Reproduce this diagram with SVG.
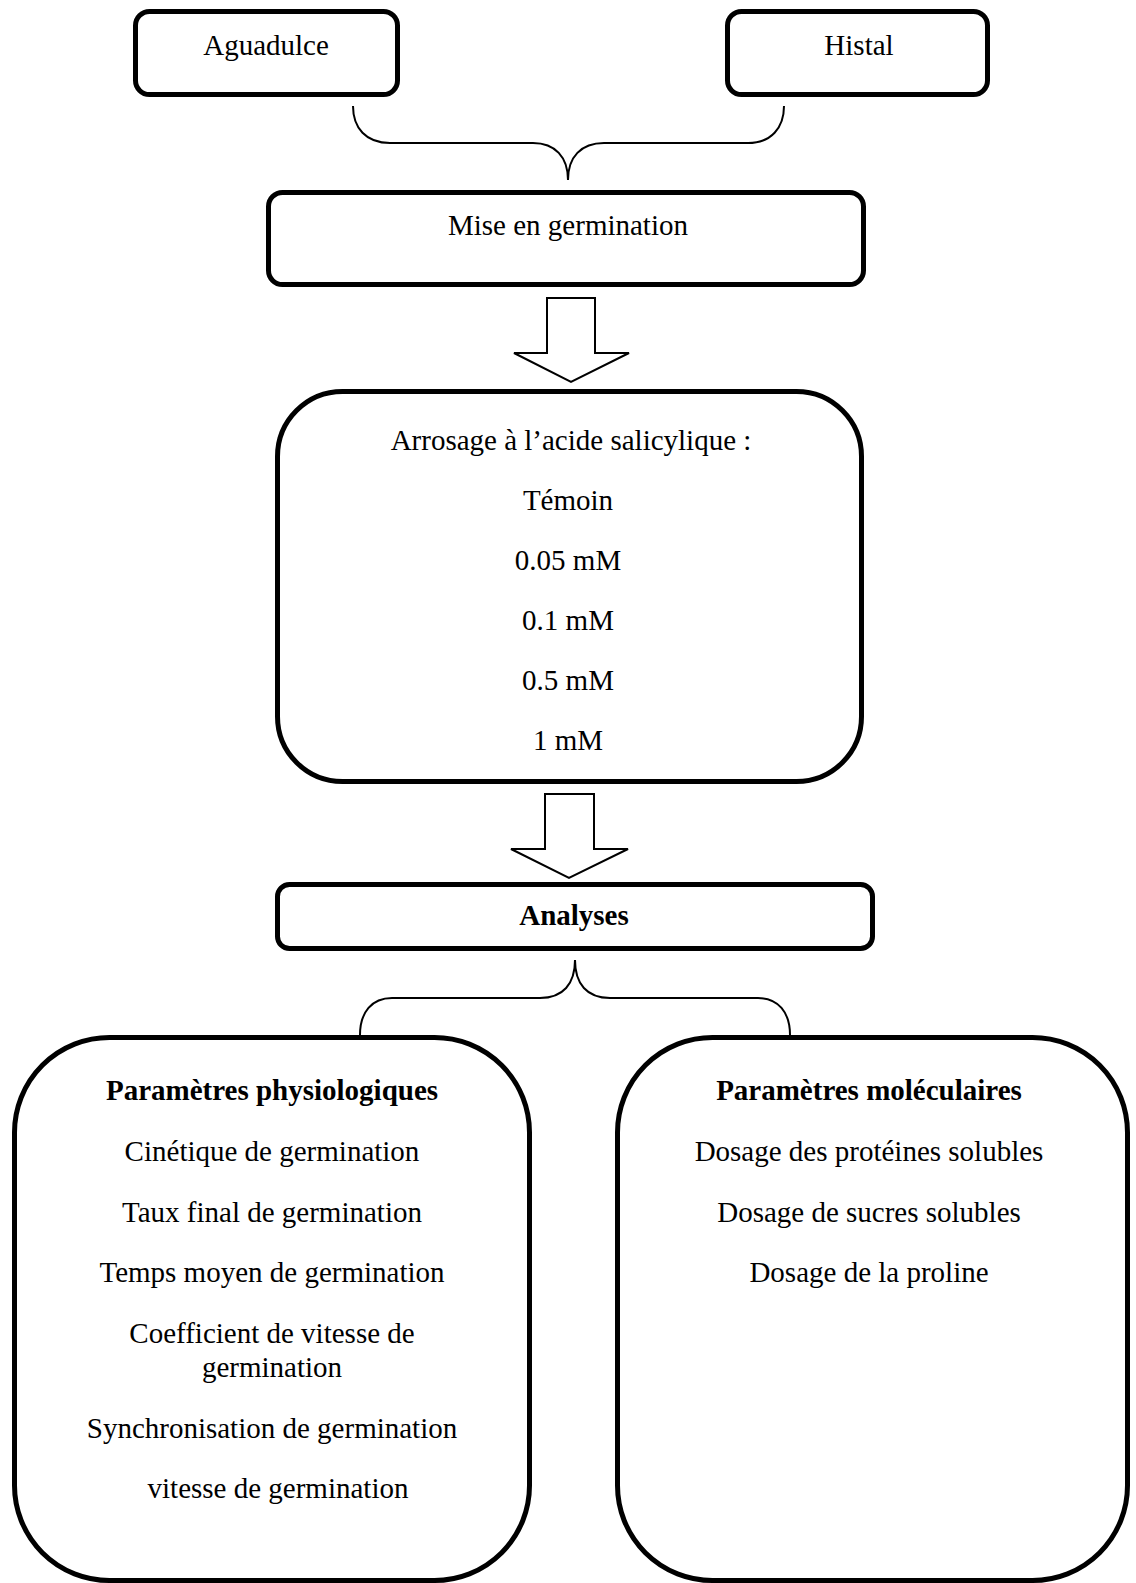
<svg xmlns="http://www.w3.org/2000/svg" width="1136" height="1583" viewBox="0 0 1136 1583">
<style>
.box{fill:#fff;stroke:#000;stroke-width:5}
.t{font-family:"Liberation Serif","Times New Roman",serif;font-size:29px;fill:#000;text-anchor:middle}
.b{font-weight:bold}
.con{fill:none;stroke:#000;stroke-width:2}
.arr{fill:#fff;stroke:#000;stroke-width:2;stroke-linejoin:miter}
</style>
<rect width="1136" height="1583" fill="#fff"/>
<g id="connectors">
<path class="con" d="M353,106 C353,128 366,143 390,143 L533,143 C555,143 568,157 568,180 C568,157 581,143 604,143 L748,143 C771,143 784,128 784,106"/>
<path class="arr" d="M547,298 L595,298 L595,353 L629,353 L571,382 L514,353 L547,353 Z"/>
<path class="arr" d="M545,794 L594,794 L594,849 L628,849 L569,878 L511,849 L545,849 Z"/>
<path class="con" d="M575,960 C575,984 563,998 540,998 L392,998 C372,998 360,1012 360,1035 M575,960 C575,984 587,998 610,998 L758,998 C778,998 790,1012 790,1035"/>
</g>
<g id="aguadulce">
<rect class="box" x="135.5" y="11.5" width="262" height="83" rx="14"/>
<text class="t" x="266" y="55">Aguadulce</text>
</g>
<g id="histal">
<rect class="box" x="727.5" y="11.5" width="260" height="83" rx="14"/>
<text class="t" x="859" y="55">Histal</text>
</g>
<g id="mise">
<rect class="box" x="268.5" y="192.5" width="595" height="92" rx="14"/>
<text class="t" x="568" y="235">Mise en germination</text>
</g>
<g id="arrosage">
<rect class="box" x="277.5" y="391.5" width="584" height="390" rx="65"/>
<text class="t" x="571" y="450">Arrosage à l’acide salicylique :</text>
<text class="t" x="568" y="510">Témoin</text>
<text class="t" x="568" y="570">0.05 mM</text>
<text class="t" x="568" y="630">0.1 mM</text>
<text class="t" x="568" y="690">0.5 mM</text>
<text class="t" x="568" y="750">1 mM</text>
</g>
<g id="analyses">
<rect class="box" x="277.5" y="884.5" width="595" height="64" rx="12"/>
<text class="t b" x="574" y="925">Analyses</text>
</g>
<g id="physio">
<rect class="box" x="14.5" y="1037.5" width="515" height="543" rx="95"/>
<text class="t b" x="272" y="1100">Paramètres physiologiques</text>
<text class="t" x="272" y="1161">Cinétique de germination</text>
<text class="t" x="272" y="1222">Taux final de germination</text>
<text class="t" x="272" y="1282">Temps moyen de germination</text>
<text class="t" x="272" y="1343">Coefficient de vitesse de</text>
<text class="t" x="272" y="1377">germination</text>
<text class="t" x="272" y="1438">Synchronisation de germination</text>
<text class="t" x="278" y="1498">vitesse de germination</text>
</g>
<g id="molec">
<rect class="box" x="617.5" y="1037.5" width="510" height="543" rx="95"/>
<text class="t b" x="869" y="1100">Paramètres moléculaires</text>
<text class="t" x="869" y="1161">Dosage des protéines solubles</text>
<text class="t" x="869" y="1222">Dosage de sucres solubles</text>
<text class="t" x="869" y="1282">Dosage de la proline</text>
</g>
</svg>
